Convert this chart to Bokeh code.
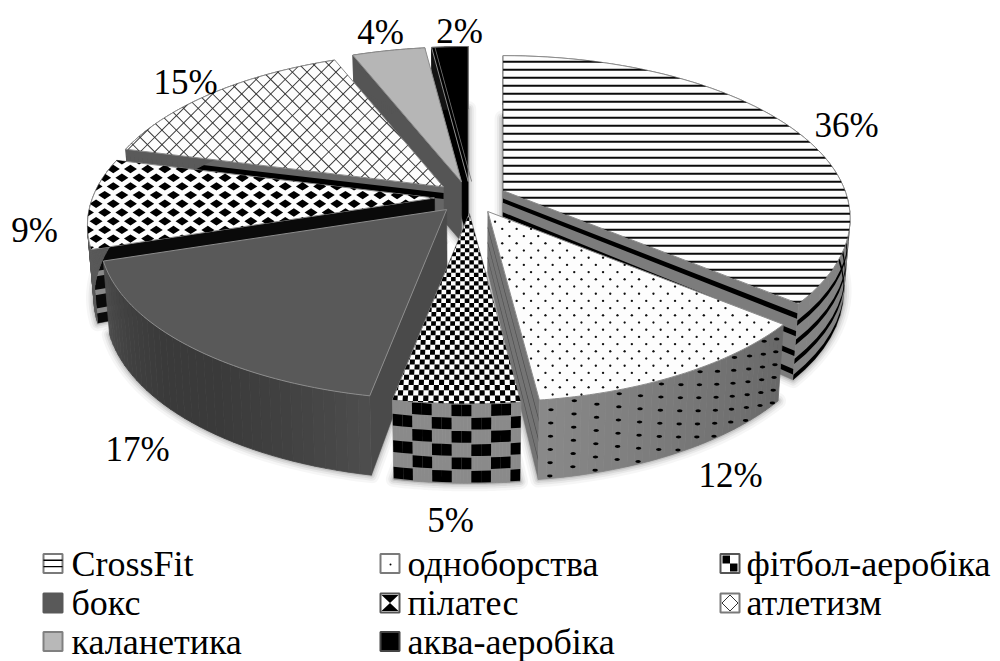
import math
from bokeh.plotting import figure
from bokeh.models import ColumnDataSource, Range1d
from bokeh.core.properties import value
from bokeh.embed import file_html
from bokeh.resources import INLINE

# ---- data ----
categories = ["CrossFit", "одноборства", "фітбол-аеробіка", "бокс", "пілатес", "атлетизм", "каланетика", "аква-аеробіка"]
shares = [36, 12, 5, 17, 9, 15, 4, 2]
# pie slices run clockwise from 12 o'clock in this order
slice_order = ["CrossFit", "одноборства", "пілатес", "бокс", "фітбол-аеробіка", "атлетизм", "каланетика", "аква-аеробіка"]
slice_shares = [36, 12, 5, 17, 9, 15, 4, 2]

# ---- layout ----
CX, CY, RX, RY, PERSP = 470.0, 197.0, 342.0, 158.0, 0.17
EX, EY = 36.0, 16.0
APEX_Z = 60.0
W, H = 1000, 661
LABEL_XY = {"CrossFit": (846, 125), "одноборства": (730, 475), "пілатес": (450, 520), "бокс": (137, 449),
            "фітбол-аеробіка": (34, 230), "атлетизм": (185, 82), "каланетика": (380, 32), "аква-аеробіка": (459, 31)}
LEG_TEXT_Y = [563, 602.5, 641.5]
LEG_ROWS = [563, 602.5, 641]
LEG_SW = [43, 380, 720]
LEG_TX = [71, 407, 746]
FONT = "Liberation Serif"

P = dict(xs=[], ys=[], fill=[], line=[], lw=[], la=[])
shadow_xs, shadow_ys = [], []


def add(poly, fill, line=None, lw=1.0):
    if len(poly) < 3:
        return
    P["xs"].append([a for a, _ in poly])
    P["ys"].append([b for _, b in poly])
    P["fill"].append(fill)
    P["line"].append(line or fill)
    P["lw"].append(lw)
    P["la"].append(1.0 if line else 0.0)


def gray(v):
    v = int(max(0, min(255, v)))
    return "#%02x%02x%02x" % (v, v, v)


def clip(poly, hull):
    area = sum(hull[i][0] * hull[(i + 1) % len(hull)][1] - hull[(i + 1) % len(hull)][0] * hull[i][1] for i in range(len(hull)))
    s = 1 if area > 0 else -1
    out = poly
    for i in range(len(hull)):
        a, b = hull[i], hull[(i + 1) % len(hull)]
        if a == b or not out:
            continue
        side = lambda q: s * ((b[0] - a[0]) * (q[1] - a[1]) - (b[1] - a[1]) * (q[0] - a[0]))
        res = []
        for j in range(len(out)):
            u, v = out[j], out[(j + 1) % len(out)]
            su, sv = side(u), side(v)
            if su >= 0:
                res.append(u)
            if su * sv < 0:
                t = su / (su - sv)
                res.append((u[0] + t * (v[0] - u[0]), u[1] + t * (v[1] - u[1])))
        out = res
    return out


class Slice:
    def __init__(self, name, a0, a1):
        self.name, self.a0, self.a1 = name, a0, a1
        m = (a0 + a1) / 2
        self.ex, self.ey = EX * math.sin(m), -EY * math.cos(m)

    def disc(self, X, Y, z=0.0):
        f = 1 / (1 + PERSP * Y)
        x = CX + self.ex + RX * X * f
        y = CY + self.ey - RY * Y * f
        if z:
            x = CX + (x - CX) * (1 - 0.017 * z)
            y += z * (APEX_Z + (71 - 8.5 * Y - APEX_Z) * math.hypot(X, Y))
        return (x, y)

    def rim(self, t, z=0.0, rho=1.0):
        return self.disc(rho * math.sin(t), rho * math.cos(t), z)

    def arc(self, z=0.0, n=60):
        return [self.rim(self.a0 + (self.a1 - self.a0) * i / n, z) for i in range(n + 1)]

    def top(self):
        return [self.disc(0, 0)] + self.arc()

    def bottom(self):
        return [self.disc(0, 0, 1)] + self.arc(1)

    def radial(self, t, fill, bands=(), band_fill="#000000", band_w=0.14):
        a, b = self.disc(0, 0), self.rim(t)
        a2, b2 = self.disc(0, 0, 1), self.rim(t, 1)
        add([a, b, b2, a2], fill, fill, 0.5)
        for c in bands:
            p = lambda u, v, w: (u[0] + (v[0] - u[0]) * w, u[1] + (v[1] - u[1]) * w)
            add([p(a, a2, c), p(b, b2, c), p(b, b2, c + band_w), p(a, a2, c + band_w)], band_fill)

    def outer(self, shade, bands=(), band_w=0.13, n=36):
        for i in range(n):
            t0 = self.a0 + (self.a1 - self.a0) * i / n
            t1 = self.a0 + (self.a1 - self.a0) * (i + 1) / n
            u = (i + 0.5) / n
            c = gray(shade(u))
            add([self.rim(t0), self.rim(t1), self.rim(t1, 1), self.rim(t0, 1)], c, c, 0.8)
        for c in bands:
            pts = [self.rim(self.a0 + (self.a1 - self.a0) * i / n, c) for i in range(n + 1)]
            pts2 = [self.rim(self.a0 + (self.a1 - self.a0) * i / n, c + band_w) for i in range(n + 1)]
            add(pts + pts2[::-1], "#000000")

    def face(self, fill):
        add(self.top(), fill, "#8c8c8c", 1.0)


slices = {}
acc = 0.0
for nm, sh in zip(slice_order, slice_shares):
    a0 = acc / sum(slice_shares) * 2 * math.pi
    acc += sh
    slices[nm] = Slice(nm, a0, acc / sum(slice_shares) * 2 * math.pi)

for s in slices.values():
    b = s.bottom()
    shadow_xs.append([q[0] for q in b] + [b[0][0]])
    shadow_ys.append([q[1] for q in b] + [b[0][1]])


def bbox(poly):
    return min(q[0] for q in poly), max(q[0] for q in poly), min(q[1] for q in poly), max(q[1] for q in poly)


def draw_crossfit(s):
    s.radial(s.a0, "#808080")
    s.radial(s.a1, "#7c7c7c", bands=(0.13, 0.36, 0.62, 0.86), band_w=0.07)
    s.outer(lambda u: 118 + 14 * u, bands=(0.22, 0.47, 0.72, 0.93), band_w=0.07)
    top = s.top()
    s.face("#fdfdfd")
    x0, x1, y0, y1 = bbox(top)
    y = y0 + 5
    while y < y1:
        add(clip([(x0, y), (x1, y), (x1, y + 2), (x0, y + 2)], top), "#0a0a0a")
        y += 8.0


def octagon(x, y, rx, ry):
    return [(x + rx * math.cos(i * math.pi / 4), y + ry * math.sin(i * math.pi / 4)) for i in range(8)]


def draw_combat(s):
    s.radial(s.a1, "#747474", bands=(0.25, 0.5, 0.75), band_fill="#4a4a4a", band_w=0.03)
    s.outer(lambda u: 104 + 34 * u)
    # dots on the curved wall
    nt, nz = 13, 6
    for i in range(nt):
        t = s.a0 + (s.a1 - s.a0) * (i + 0.5) / nt
        for j in range(nz):
            z = (j + (0.3 if i % 2 else 0.8)) / nz
            if z < 0.97:
                x, y = s.rim(t, z)
                add(octagon(x, y, 2.8, 1.5), "#000000")
    top = s.top()
    s.face("#fdfdfd")
    x0, x1, y0, y1 = bbox(top)
    y, row = y0 + 3, 0
    while y < y1:
        x = x0 + (row % 2) * 7.2
        while x < x1:
            if len(clip(octagon(x, y, 1.2, 1.2), top)) == 8:
                add(octagon(x, y, 1.2, 1.2), "#101010")
            x += 14.4
        y += 7.2
        row += 1


def draw_pilates(s):
    s.outer(lambda u: 138)
    nrow = 6
    n = 13
    dt = (s.a1 - s.a0) / n
    for i in range(n):
        for j in range(nrow):
            if ((i + 1) // 2 + j) % 2 == 0:
                continue
            t0, t1 = s.a0 + i * dt, s.a0 + (i + 1) * dt
            z0, z1 = j / nrow + 0.01, (j + 1) / nrow - 0.01
            add([s.rim(t0, z0), s.rim(t1, z0), s.rim(t1, z1), s.rim(t0, z1)], "#000000")
    top = s.top()
    s.face("#fdfdfd")
    dX, dY = 0.0125, 0.0235
    for ix in range(-16, 17):
        for iy in range(0, 46):
            if (ix + iy) % 2:
                continue
            X, Y = ix * dX, -iy * dY
            q = [s.disc(X, Y), s.disc(X + dX, Y), s.disc(X + dX, Y - dY), s.disc(X, Y - dY)]
            add(clip(q, top), "#000000")


def draw_box(s):
    s.radial(s.a0, "#4a4a4a")
    s.outer(lambda u: 78 - 20 * math.sin(math.pi * u))
    s.face("#595959")


def draw_fitball(s):
    s.radial(s.a0, "#0a0a0a", bands=(0.3, 0.55, 0.8), band_fill="#8a8a8a", band_w=0.07)
    s.outer(lambda u: 90)
    top = s.top()
    s.face("#fdfdfd")
    x0, x1, y0, y1 = bbox(top)
    y, row = y0, 0
    while y < y1 + 8:
        x = x0 + (row % 2) * 8.6
        while x < x1 + 8:
            add(clip([(x - 6.5, y), (x, y - 4.2), (x + 6.5, y), (x, y + 4.2)], top), "#000000")
            x += 17.2
        y += 8.7
        row += 1


def draw_athletic(s):
    s.radial(s.a0, "#666666", bands=(0.1,), band_w=0.1)
    s.outer(lambda u: 90)
    top = s.top()
    s.face("#fdfdfd")
    x0, x1, y0, y1 = bbox(top)
    span = (x1 - x0) + (y1 - y0)
    step, hw = 14.5, 0.65
    k = -span
    while k < 2 * span:
        line1 = [(x0 + k - hw, y0), (x0 + k + hw, y0), (x0 + k + hw - span, y0 + span), (x0 + k - hw - span, y0 + span)]
        line2 = [(x0 + k - hw - span, y0), (x0 + k + hw - span, y0), (x0 + k + hw, y0 + span), (x0 + k - hw, y0 + span)]
        add(clip(line1, top), "#333333")
        add(clip(line2, top), "#333333")
        k += step


def draw_calanetics(s):
    s.radial(s.a0, "#555555")
    s.outer(lambda u: 85)
    s.face("#b6b6b6")


def draw_aqua(s):
    s.radial(s.a0, "#000000")
    s.outer(lambda u: 20)
    s.face("#000000")
    a, b = s.disc(0, 0), s.rim(s.a0)
    add([(a[0] + 3, a[1]), (b[0] + 3, b[1]), (b[0] + 3.8, b[1]), (a[0] + 3.8, a[1])], "#777777")


draw_aqua(slices["аква-аеробіка"])
draw_calanetics(slices["каланетика"])
draw_athletic(slices["атлетизм"])
draw_fitball(slices["фітбол-аеробіка"])
draw_crossfit(slices["CrossFit"])
draw_combat(slices["одноборства"])
draw_box(slices["бокс"])
draw_pilates(slices["пілатес"])

# ---- legend swatches ----
SW = 19
leg_pos = {}
for i, nm in enumerate(categories):
    r, c = i // 3, i % 3
    leg_pos[nm] = (LEG_SW[c], LEG_ROWS[r], LEG_TX[c], LEG_TEXT_Y[r])


def box(x, yc, fill, line="#7a7a7a"):
    return add([(x, yc - SW / 2), (x + SW, yc - SW / 2), (x + SW, yc + SW / 2), (x, yc + SW / 2)], fill, line, 2.0)


x, y = leg_pos["CrossFit"][:2]
box(x, y, "#ffffff")
add([(x, y - 4), (x + SW, y - 4), (x + SW, y - 2.6), (x, y - 2.6)], "#000000")
add([(x, y + 2.4), (x + SW, y + 2.4), (x + SW, y + 3.8), (x, y + 3.8)], "#000000")
x, y = leg_pos["одноборства"][:2]
box(x, y, "#ffffff")
add(octagon(x + 10, y + 1, 1.0, 1.0), "#000000")
x, y = leg_pos["фітбол-аеробіка"][:2]
box(x, y, "#ffffff", "#555555")
add([(x + 2, y - 8), (x + SW / 2, y - 8), (x + SW / 2, y), (x + 2, y)], "#000000")
add([(x + SW / 2, y), (x + SW - 2, y), (x + SW - 2, y + 8), (x + SW / 2, y + 8)], "#000000")
x, y = leg_pos["бокс"][:2]
box(x, y, "#595959", "#595959")
x, y = leg_pos["пілатес"][:2]
box(x, y, "#ffffff", "#555555")
add([(x + 1, y - 8), (x + SW - 1, y - 8), (x + SW / 2, y)], "#000000")
add([(x + 1, y + 8), (x + SW - 1, y + 8), (x + SW / 2, y)], "#000000")
x, y = leg_pos["атлетизм"][:2]
box(x, y, "#ffffff")
add([(x + SW / 2, y - 8), (x + SW - 1.5, y), (x + SW / 2, y + 8), (x + 1.5, y)], "#ffffff", "#333333", 1.0)
x, y = leg_pos["каланетика"][:2]
box(x, y, "#b8b8b8", "#808080")
x, y = leg_pos["аква-аеробіка"][:2]
box(x, y, "#000000", "#444444")

# ---- figure ----
p = figure(width=W, height=H, x_range=Range1d(0, W), y_range=Range1d(H, 0),
           output_backend="svg", toolbar_location=None, min_border=0)
p.axis.visible = False
p.grid.visible = False
p.outline_line_color = None
p.background_fill_color = "#ffffff"

for w, al in [(16, 0.035), (11, 0.05), (7, 0.07), (3.5, 0.09)]:
    p.multi_line(shadow_xs, shadow_ys, line_color="#000000", line_alpha=al, line_width=w, line_join="round")

src = ColumnDataSource(P)
p.patches("xs", "ys", source=src, fill_color="fill", line_color="line", line_width="lw", line_alpha="la")

lab_src = ColumnDataSource(dict(
    x=[LABEL_XY[n][0] for n in slice_order],
    y=[LABEL_XY[n][1] for n in slice_order],
    t=["%d%%" % v for v in slice_shares]))
p.text("x", "y", text="t", source=lab_src, text_font=value(FONT), text_font_size=value("35px"),
       text_align="center", text_baseline="middle", text_color="#000000")

leg_src = ColumnDataSource(dict(
    x=[leg_pos[n][2] for n in categories],
    y=[leg_pos[n][3] for n in categories],
    t=categories))
p.text("x", "y", text="t", source=leg_src, text_font=value(FONT), text_font_size=value("36px"),
       text_align="left", text_baseline="middle", text_color="#000000")

open("out.html", "w").write(file_html(p, INLINE))
